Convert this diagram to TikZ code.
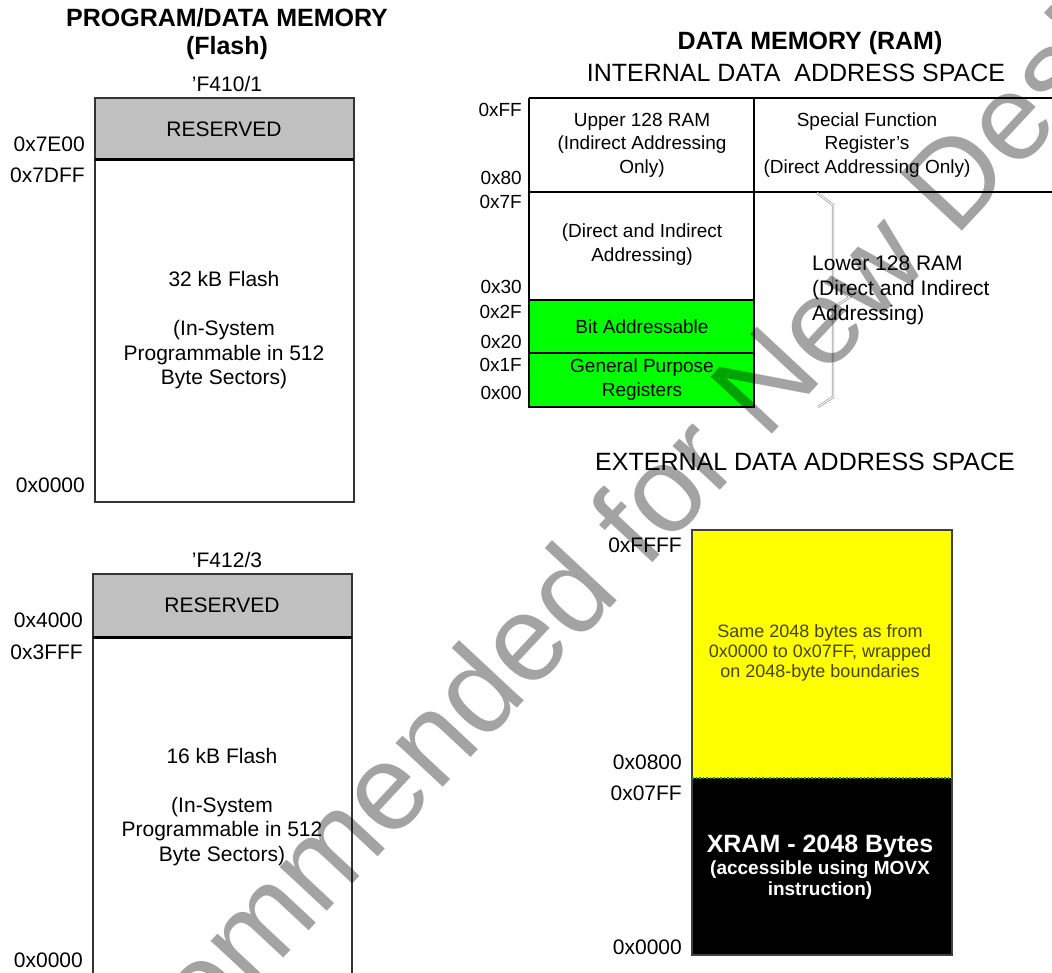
\documentclass[tikz,border=0pt]{standalone}
\usepackage{fontspec}
\setmainfont{Liberation Sans}
\definecolor{resgray}{RGB}{192,192,192}
\definecolor{memgreen}{RGB}{0,255,0}
\definecolor{memyellow}{RGB}{255,255,0}
\definecolor{olivetext}{RGB}{70,70,0}
\begin{document}
\begin{tikzpicture}[x=1pt,y=-1pt,
  lbl/.style={font=\fontsize{21}{24.5}\selectfont, anchor=east, inner sep=0pt},
  lblsm/.style={font=\fontsize{19}{22}\selectfont, anchor=east, inner sep=0pt},
  hdr/.style={font=\fontsize{25}{30}\selectfont\bfseries, inner sep=0pt},
  hdrn/.style={font=\fontsize{25}{30}\selectfont, inner sep=0pt},
  body/.style={font=\fontsize{21}{24.5}\selectfont, align=center, inner sep=0pt},
  cell/.style={font=\fontsize{19}{23.5}\selectfont, align=center, inner sep=0pt},
  frame/.style={draw=black!80, line width=2pt},
  divline/.style={draw=black, line width=3pt},
  tline/.style={draw=black, line width=1.5pt},
  bracegray/.style={draw=gray!80, line width=0.7pt, double=white, double distance=1pt},
  wmark/.style={font=\fontsize{122}{122}\selectfont, text=black, text opacity=0.36, rotate=47, anchor=base, inner sep=0pt}
]
\useasboundingbox (0,0) rectangle (1052,973);
\clip (0,0) rectangle (1052,973);
\fill[white] (0,0) rectangle (1052,973);

% ---------- Program / data memory (Flash) ----------
\node[hdr] (ptitle) at (227,18) {PROGRAM/DATA MEMORY};
\node[hdr] (pflash) at (227,48) {(Flash)};

\node[body] (dev1) at (227,84) {'F410/1};
\draw[frame, fill=resgray] (95,98) rectangle (354,160);
\draw[frame] (95,160) rectangle (354,502);
\draw[divline] (95,160) -- (354,160);
\node[body] (res1) at (224,129) {RESERVED};
\node[lbl] (a7e00) at (85,144) {0x7E00};
\node[lbl] (a7dff) at (85,175) {0x7DFF};
\node[lbl] (a0000a) at (85,485) {0x0000};
\node[body] (fl32) at (224,330.5) {32 kB Flash\\[24.5pt](In-System\\Programmable in 512\\Byte Sectors)};

\node[body] (dev2) at (227,560) {'F412/3};
\draw[frame, fill=resgray] (93,574) rectangle (352,637);
\draw[frame] (93,637) -- (93,990);
\draw[frame] (352,637) -- (352,990);
\draw[divline] (93,637) -- (352,637);
\node[body] (res2) at (222,605) {RESERVED};
\node[lbl] (a4000) at (83,620) {0x4000};
\node[lbl] (a3fff) at (83,652) {0x3FFF};
\node[lbl] (a0000b) at (83,960) {0x0000};
\node[body] (fl16) at (222,807) {16 kB Flash\\[24.5pt](In-System\\Programmable in 512\\Byte Sectors)};

% ---------- Data memory (RAM) ----------
\node[hdr] (dtitle) at (810,43) {DATA MEMORY (RAM)};
\node[hdrn] (itable) at (796,73) {INTERNAL DATA~~ADDRESS SPACE};

\fill[memgreen] (529,300) rectangle (754,407);
\draw[tline] (529,98) -- (1060,98);
\draw[tline] (529,192) -- (1060,192);
\draw[tline] (529,98) -- (529,407) -- (754,407) -- (754,98);
\draw[tline] (529,300) -- (754,300);
\draw[tline] (529,353) -- (754,353);

\node[lblsm] (aff) at (522,110) {0xFF};
\node[lblsm] (a80) at (522,178) {0x80};
\node[lblsm] (a7f) at (522,202) {0x7F};
\node[lblsm] (a30) at (522,287) {0x30};
\node[lblsm] (a2f) at (522,312) {0x2F};
\node[lblsm] (a20) at (522,342) {0x20};
\node[lblsm] (a1f) at (522,365) {0x1F};
\node[lblsm] (a00) at (522,393) {0x00};

\node[cell] (upper) at (642,145) {Upper 128 RAM\\(Indirect Addressing\\Only)};
\node[cell] (sfr) at (867,145) {Special Function\\Register's\\(Direct Addressing Only)};
\node[cell] (direct) at (642,244.5) {(Direct and Indirect\\Addressing)};
\node[cell] (bitadr) at (642,327) {Bit Addressable};
\node[cell] (gpr) at (642,379.5) {General Purpose\\Registers};

\draw[bracegray] (817,193) -- (833,205) -- (833,287) -- (850,297) -- (833,308) -- (833,397) -- (818,407);
\node[font=\fontsize{21}{25}\selectfont, align=left, anchor=west, inner sep=0pt] (lower) at (812,290) {Lower 128 RAM\\(Direct and Indirect\\Addressing)};

% ---------- External data ----------
\node[hdrn] (etitle) at (805,462) {EXTERNAL DATA ADDRESS SPACE};
\fill[memyellow] (692,530) rectangle (952,778);
\fill[black] (692,778) rectangle (952,955);
\draw[draw=black!75, line width=1.5pt] (692,530) rectangle (952,955);
\draw[memgreen!70!black, dotted, line width=1.5pt] (692,778) -- (952,778);

\node[lbl] (affff) at (682,545) {0xFFFF};
\node[lbl] (a0800) at (682,762) {0x0800};
\node[lbl] (a07ff) at (682,793) {0x07FF};
\node[lbl] (a0000c) at (682,947) {0x0000};

\node[font=\fontsize{18}{20}\selectfont, align=center, inner sep=0pt, text=olivetext] (same) at (820,653) {Same 2048 bytes as from\\0x0000 to 0x07FF, wrapped\\on 2048-byte boundaries};
\node[font=\fontsize{25}{28}\selectfont\bfseries, text=white, inner sep=0pt] (xram) at (820,846) {XRAM - 2048 Bytes};
\node[font=\fontsize{19}{21}\selectfont\bfseries, text=white, align=center, inner sep=0pt] (movx) at (820,880.5) {(accessible using MOVX\\instruction)};

% ---------- Watermark ----------
\node[wmark] (wm) at (560,662) {Not Recommended for New Design};
\end{tikzpicture}
\end{document}
